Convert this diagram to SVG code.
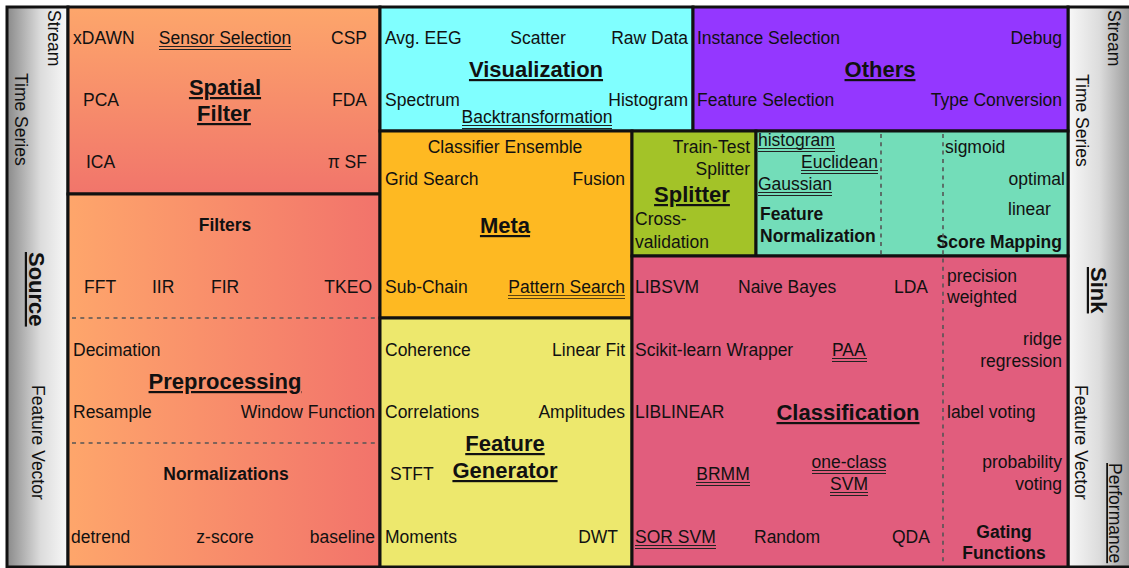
<svg xmlns="http://www.w3.org/2000/svg" width="1129" height="568" viewBox="0 0 1129 568">
<style>
.t{font-family:"Liberation Sans",Arial,Helvetica,sans-serif;font-size:17.5px;fill:#111}
.b{font-weight:bold}
.h{font-weight:bold;font-size:22px;text-decoration:underline}
.u{text-decoration:underline}
.m{text-anchor:middle}
.e{text-anchor:end}
.box{stroke:#111;stroke-width:3}
.ul{stroke:#222;stroke-width:1;fill:none}
.dash{stroke:#555;stroke-width:1.6;stroke-dasharray:4 4.3;fill:none}
</style>
<defs>
<linearGradient id="gL" x1="0" y1="0" x2="1" y2="0">
<stop offset="0" stop-color="#8a8a8a"/><stop offset="0.55" stop-color="#dcdcdc"/><stop offset="1" stop-color="#f8f8f8"/>
</linearGradient>
<linearGradient id="gR" x1="0" y1="0" x2="1" y2="0">
<stop offset="0" stop-color="#f8f8f8"/><stop offset="0.45" stop-color="#dcdcdc"/><stop offset="1" stop-color="#8a8a8a"/>
</linearGradient>
<linearGradient id="gSF" x1="0" y1="0" x2="0" y2="1">
<stop offset="0" stop-color="#fda66b"/><stop offset="1" stop-color="#f1756b"/>
</linearGradient>
<linearGradient id="gPP" x1="0" y1="0" x2="1" y2="0">
<stop offset="0" stop-color="#fea66b"/><stop offset="1" stop-color="#f2736b"/>
</linearGradient>
</defs>
<rect width="1129" height="568" fill="#fff"/>

<g id="source">
<rect class="box" x="7" y="7" width="61" height="560" fill="url(#gL)"/>
<text class="t" transform="translate(48,10) rotate(90)">Stream</text>
<text class="t" transform="translate(15,73) rotate(90)">Time Series</text>
<text class="t h" transform="translate(29,252) rotate(90)">Source</text>
<text class="t" transform="translate(32,385) rotate(90)">Feature Vector</text>
</g>

<g id="sink">
<rect class="box" x="1068" y="7" width="70" height="560" fill="url(#gR)"/>
<text class="t" transform="translate(1108,10) rotate(90)">Stream</text>
<text class="t" transform="translate(1076,74) rotate(90)">Time Series</text>
<text class="t h" transform="translate(1091,267) rotate(90)">Sink</text>
<text class="t" transform="translate(1075,385) rotate(90)">Feature Vector</text>
<text class="t u" transform="translate(1109,463) rotate(90)">Performance</text>
</g>

<g id="spatial-filter">
<rect class="box" x="68" y="7" width="312" height="187" fill="url(#gSF)"/>
<text class="t" x="73" y="44">xDAWN</text>
<text class="t m" x="225" y="44">Sensor Selection</text>
<path class="ul" d="M159 46.5H291M159 49.5H291"/>
<text class="t e" x="367" y="44">CSP</text>
<text class="t h m" x="225" y="95">Spatial</text>
<text class="t h m" x="224" y="121">Filter</text>
<text class="t" x="83" y="106">PCA</text>
<text class="t e" x="367" y="106">FDA</text>
<text class="t" x="86" y="168">ICA</text>
<text class="t e" x="367" y="168">π SF</text>
</g>

<g id="preprocessing">
<rect class="box" x="68" y="194" width="312" height="373" fill="url(#gPP)"/>
<text class="t b m" x="225" y="231">Filters</text>
<text class="t" x="84" y="293">FFT</text>
<text class="t" x="152" y="293">IIR</text>
<text class="t" x="211" y="293">FIR</text>
<text class="t e" x="372" y="293">TKEO</text>
<text class="t" x="73" y="356">Decimation</text>
<text class="t h m" x="225" y="389">Preprocessing</text>
<text class="t" x="73" y="418">Resample</text>
<text class="t e" x="375" y="418">Window Function</text>
<text class="t b m" x="226" y="480">Normalizations</text>
<text class="t" x="71" y="543">detrend</text>
<text class="t m" x="225" y="543">z-score</text>
<text class="t e" x="375" y="543">baseline</text>
</g>

<g id="visualization">
<rect class="box" x="380" y="7" width="313" height="124" fill="#80ffff"/>
<text class="t" x="385" y="44">Avg. EEG</text>
<text class="t m" x="538" y="44">Scatter</text>
<text class="t e" x="688" y="44">Raw Data</text>
<text class="t h m" x="536" y="77">Visualization</text>
<text class="t" x="385" y="106">Spectrum</text>
<text class="t e" x="688" y="106">Histogram</text>
<text class="t m" x="537" y="123">Backtransformation</text>
<path class="ul" d="M462 125.5H612M462 128.5H612"/>
</g>

<g id="others">
<rect class="box" x="693" y="7" width="375" height="124" fill="#9437ff"/>
<text class="t" x="697" y="44">Instance Selection</text>
<text class="t e" x="1062" y="44">Debug</text>
<text class="t h m" x="880" y="77">Others</text>
<text class="t" x="697" y="106">Feature Selection</text>
<text class="t e" x="1062" y="106">Type Conversion</text>
</g>

<g id="meta">
<rect class="box" x="380" y="131" width="252" height="187" fill="#feb922"/>
<text class="t m" x="505" y="153">Classifier Ensemble</text>
<text class="t" x="385" y="185">Grid Search</text>
<text class="t e" x="625" y="185">Fusion</text>
<text class="t h m" x="505" y="233">Meta</text>
<text class="t" x="385" y="293">Sub-Chain</text>
<text class="t e" x="625" y="293">Pattern Search</text>
<path class="ul" d="M508 295.5H625M508 298.5H625" style="stroke:#5a4310"/>
</g>

<g id="feature-generator">
<rect class="box" x="380" y="318" width="252" height="249" fill="#ede86d"/>
<text class="t" x="385" y="356">Coherence</text>
<text class="t e" x="625" y="356">Linear Fit</text>
<text class="t" x="385" y="418">Correlations</text>
<text class="t e" x="625" y="418">Amplitudes</text>
<text class="t h m" x="505" y="451">Feature</text>
<text class="t h m" x="505" y="478">Generator</text>
<text class="t" x="390" y="480">STFT</text>
<text class="t" x="385" y="543">Moments</text>
<text class="t e" x="618" y="543">DWT</text>
</g>

<g id="splitter">
<rect class="box" x="632" y="131" width="124" height="125" fill="#a3c328"/>
<text class="t e" x="750" y="153">Train-Test</text>
<text class="t e" x="750" y="175">Splitter</text>
<text class="t h m" x="692" y="202">Splitter</text>
<text class="t" x="635" y="225">Cross-</text>
<text class="t" x="635" y="248">validation</text>
</g>

<g id="postprocessing">
<rect class="box" x="756" y="131" width="312" height="125" fill="#73ddb9"/>
<text class="t" x="758" y="146">histogram</text>
<path class="ul" d="M758 148.5H835M758 151.5H835"/>
<text class="t" x="801" y="168">Euclidean</text>
<path class="ul" d="M801 170.5H878M801 173.5H878"/>
<text class="t" x="758" y="190">Gaussian</text>
<path class="ul" d="M758 192.5H832M758 195.5H832"/>
<text class="t b" x="760" y="220">Feature</text>
<text class="t b" x="760" y="242">Normalization</text>
<text class="t" x="945" y="153">sigmoid</text>
<text class="t e" x="1065" y="185">optimal</text>
<text class="t" x="1008" y="215">linear</text>
<text class="t b e" x="1062" y="248">Score Mapping</text>
</g>

<g id="classification">
<rect class="box" x="632" y="256" width="436" height="311" fill="#e15d7d"/>
<text class="t" x="635" y="293">LIBSVM</text>
<text class="t" x="738" y="293">Naive Bayes</text>
<text class="t" x="894" y="293">LDA</text>
<text class="t" x="947" y="282">precision</text>
<text class="t" x="947" y="303">weighted</text>
<text class="t" x="635" y="356">Scikit-learn Wrapper</text>
<text class="t" x="832" y="356">PAA</text>
<path class="ul" d="M832 358.5H867M832 361.5H867"/>
<text class="t e" x="1062" y="345">ridge</text>
<text class="t e" x="1062" y="367">regression</text>
<text class="t" x="635" y="418">LIBLINEAR</text>
<text class="t h m" x="848" y="420">Classification</text>
<text class="t" x="947" y="418">label voting</text>
<text class="t m" x="723" y="480">BRMM</text>
<path class="ul" d="M696 482.5H750M696 485.5H750"/>
<text class="t m" x="849" y="468">one-class</text>
<path class="ul" d="M812 470.5H886M812 473.5H886"/>
<text class="t m" x="849" y="490">SVM</text>
<path class="ul" d="M830 492.5H868M830 495.5H868"/>
<text class="t e" x="1062" y="468">probability</text>
<text class="t e" x="1062" y="490">voting</text>
<text class="t" x="635" y="543">SOR SVM</text>
<path class="ul" d="M635 545.5H716M635 548.5H716"/>
<text class="t" x="754" y="543">Random</text>
<text class="t" x="892" y="543">QDA</text>
<text class="t b m" x="1004" y="538">Gating</text>
<text class="t b m" x="1004" y="559">Functions</text>
</g>

<g id="connectors">
<line class="dash" x1="72" y1="318" x2="378" y2="318"/>
<line class="dash" x1="72" y1="443" x2="378" y2="443"/>
<line class="dash" x1="881" y1="134" x2="881" y2="254"/>
<line class="dash" x1="943" y1="134" x2="943" y2="566"/>
</g>
</svg>
